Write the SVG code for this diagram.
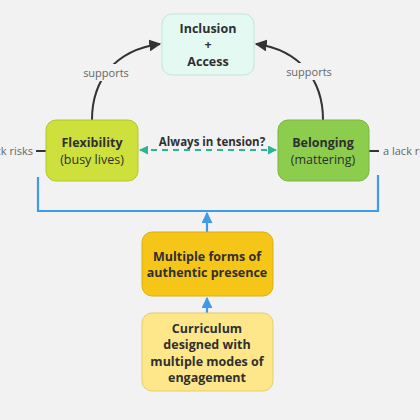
<svg xmlns="http://www.w3.org/2000/svg" width="420" height="420" viewBox="0 0 420 420">
<style>
.t{font-family:"Open Sans","Noto Sans",sans-serif;font-size:12.5px;fill:#2f2f2f;text-anchor:middle}
.b{font-weight:bold}
.lbl{font-family:"Open Sans","Noto Sans",sans-serif;font-size:11px;fill:#666}
.blue{stroke:#3d9be9;stroke-width:2.2;fill:none}
.dark{stroke:#333;stroke-width:2;fill:none}
</style>
<defs>
<marker id="ad" viewBox="0 0 10 10" refX="9" refY="5" markerWidth="6" markerHeight="6" orient="auto-start-reverse"><path d="M0,0 L10,5 L0,10 z" fill="#333"/></marker>
<marker id="ab" viewBox="0 0 10 10" refX="9" refY="5" markerWidth="5" markerHeight="5" orient="auto"><path d="M0,0 L10,5 L0,10 z" fill="#3d9be9"/></marker>
<marker id="at" viewBox="0 0 10 10" refX="9" refY="5" markerWidth="4.5" markerHeight="4.5" orient="auto-start-reverse"><path d="M0,0 L10,5 L0,10 z" fill="#2bb596"/></marker>
</defs>
<rect width="420" height="420" fill="#f2f2f2"/>
<g id="connectors">
<path class="dark" d="M92,120 C92,80 115,50 160,44" marker-end="url(#ad)"/>
<path class="dark" d="M323,120 C323,80 300,50 256,44" marker-end="url(#ad)"/>
<rect x="78" y="64" width="56" height="17" fill="#f2f2f2"/>
<rect x="281" y="63" width="56" height="17" fill="#f2f2f2"/>
<text class="lbl" x="106" y="77" text-anchor="middle">supports</text>
<text class="lbl" x="309" y="76" text-anchor="middle">supports</text>
<path d="M140,150 L276,150" stroke="#2bb596" stroke-width="2" stroke-dasharray="6,5" fill="none" marker-start="url(#at)" marker-end="url(#at)"/>
<text class="t b" x="212" y="146" style="font-size:11.5px">Always in tension?</text>
<path class="dark" d="M36,151 L46,151"/>
<path class="dark" d="M369,151 L379,151"/>
<text class="lbl" x="33" y="155" text-anchor="end">a lack risks</text>
<text class="lbl" x="383" y="155">a lack risks</text>
<path class="blue" d="M38,177 L38,211 L378,211 L378,175"/>
<path class="blue" d="M207,232 L207,213" marker-end="url(#ab)"/>
<path class="blue" d="M207,313 L207,298" marker-end="url(#ab)"/>
</g>
<g id="inclusion">
<rect x="162" y="14" width="92" height="61" rx="10" fill="#e4f9f1" stroke="#bfe5d6"/>
<text class="t b" x="208" y="33">Inclusion</text>
<text class="t b" x="208" y="49">+</text>
<text class="t b" x="208" y="66">Access</text>
</g>
<g id="flexibility">
<rect x="46" y="120" width="92" height="61" rx="10" fill="#cde03b" stroke="#b2c52e"/>
<text class="t b" x="92" y="147">Flexibility</text>
<text class="t" x="92" y="164">(busy lives)</text>
</g>
<g id="belonging">
<rect x="278" y="120" width="91" height="61" rx="10" fill="#8ccd4e" stroke="#78b53f"/>
<text class="t b" x="323" y="147">Belonging</text>
<text class="t" x="323" y="164">(mattering)</text>
</g>
<g id="presence">
<rect x="142" y="232" width="131" height="64" rx="10" fill="#f5c518" stroke="#dcae10"/>
<text class="t b" x="207" y="261">Multiple forms of</text>
<text class="t b" x="207" y="277">authentic presence</text>
</g>
<g id="curriculum">
<rect x="142" y="313" width="131" height="78" rx="10" fill="#fde78a" stroke="#e6cd6a"/>
<text class="t b" x="207" y="333">Curriculum</text>
<text class="t b" x="207" y="349">designed with</text>
<text class="t b" x="207" y="366">multiple modes of</text>
<text class="t b" x="207" y="382">engagement</text>
</g>
</svg>
